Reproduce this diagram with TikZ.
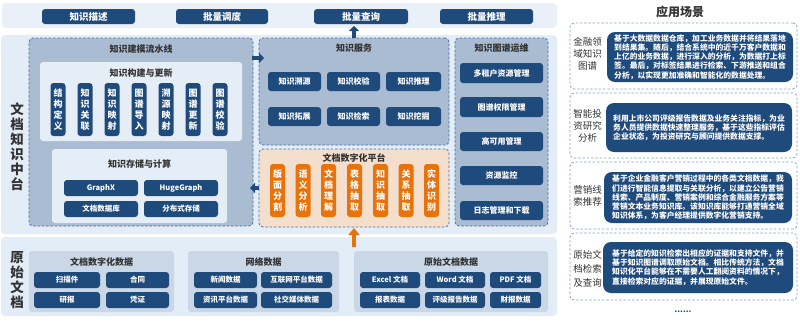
\documentclass[tikz,border=0pt]{standalone}
\usepackage{fontspec}
\setmainfont{Noto Sans CJK SC}
\usetikzlibrary{arrows.meta,calc}
\definecolor{navy}{HTML}{1F4A7C}
\definecolor{orng}{HTML}{E8720C}
\definecolor{bandbg}{HTML}{E3EDF7}
\definecolor{topbg}{HTML}{E9F0F8}
\definecolor{dfill}{HTML}{A9BCD2}
\definecolor{dline}{HTML}{4D6F99}
\definecolor{ifill}{HTML}{E5EEF7}
\definecolor{ofill}{HTML}{F4DFCC}
\definecolor{sfill}{HTML}{C9D7E7}
\definecolor{rline}{HTML}{8AA5C5}
\definecolor{tgray}{HTML}{333333}
\newcommand\bx[7]{\node[#6, minimum width={(#4)-(#2)}, minimum height={(#5)-(#3)}] (#1) at ({((#2)+(#4))/2},{((#3)+(#5))/2}) {#7};}
\tikzset{
  every node/.style={inner sep=0pt, outer sep=0pt},
  band/.style={fill=bandbg, rounded corners=4pt},
  dbox/.style={draw=dline, dashed, line width=0.8pt, fill=dfill, rounded corners=4pt, dash pattern=on 2.5pt off 1.8pt},
  obox/.style={dbox, fill=ofill},
  ibox/.style={fill=ifill, rounded corners=3pt},
  sbox/.style={fill=sfill, rounded corners=3pt},
  rbox/.style={draw=rline, dashed, line width=0.8pt, rounded corners=4pt, dash pattern=on 2.5pt off 1.8pt},
  btn/.style={fill=navy, rounded corners=3pt, text=white, font=\bfseries\fontsize{8}{9}\selectfont},
  tbtn/.style={btn, font=\bfseries\fontsize{9.5}{10}\selectfont},
  sbtn/.style={btn, font=\bfseries\fontsize{7.5}{8}\selectfont},
  vbtn/.style={btn, align=center, font=\bfseries\fontsize{9}{11}\selectfont},
  ovbtn/.style={vbtn, fill=orng},
  ttl/.style={text=tgray, font=\bfseries\fontsize{9}{10}\selectfont},
  side/.style={text=tgray, align=center, font=\bfseries\fontsize{13.5}{15}\selectfont},
  rlab/.style={text=tgray, align=center, font=\fontsize{9.5}{12}\selectfont},
  tbox/.style={fill=navy, rounded corners=8pt, text=white, align=left, font=\bfseries\fontsize{7.8}{9.2}\selectfont},
  barrow/.style={draw=navy, line width=4.5pt, -{Triangle[length=5pt,width=10pt]}},
  oarrow/.style={draw=orng, line width=4.5pt, -{Triangle[length=7pt,width=11pt]}},
}
\begin{document}
\begin{tikzpicture}[x=1pt,y=-1pt]
\useasboundingbox (0,0) rectangle (800,322);
\fill[white] (0,0) rectangle (800,322);
% top bar
\bx{topbar}{2}{3}{557}{28}{band, fill=topbg}{}
\bx{d1}{42}{9}{135}{24}{tbtn}{知识描述}
\bx{d2}{176}{9}{268}{24}{tbtn}{批量调度}
\bx{d3}{314}{9}{408}{24}{tbtn}{批量查询}
\bx{d4}{440}{9}{533}{24}{tbtn}{批量推理}
% main band
\bx{mainband}{1}{35}{557}{234}{band}{}
\node[side] (mlab) at (17,147) {文\\档\\知\\识\\中\\台};
% pipeline
\bx{build}{29}{38}{253}{226}{dbox}{}
\node[ttl] (buildt) at (141,49) {知识建模流水线};
\bx{upd}{40}{62}{242}{141}{ibox}{}
\node[ttl] (updt) at (141,73) {知识构建与更新};
\bx{u1}{50.5}{83}{65.5}{136}{vbtn}{结\\构\\定\\义}
\bx{u2}{77.5}{83}{92.5}{136}{vbtn}{知\\识\\关\\联}
\bx{u3}{104.5}{83}{119.5}{136}{vbtn}{知\\识\\映\\射}
\bx{u4}{131.5}{83}{146.5}{136}{vbtn}{图\\谱\\导\\入}
\bx{u5}{158.5}{83}{173.5}{136}{vbtn}{溯\\源\\映\\射}
\bx{u6}{185.5}{83}{200.5}{136}{vbtn}{图\\谱\\更\\新}
\bx{u7}{212.5}{83}{227.5}{136}{vbtn}{图\\谱\\校\\验}
\bx{store}{52}{149}{227}{223}{ibox}{}
\node[ttl] (storet) at (139.5,164) {知识存储与计算};
\bx{s1}{64}{180}{138}{196}{sbtn}{GraphX}
\bx{s2}{144}{180}{218}{196}{sbtn}{HugeGraph}
\bx{s3}{64}{201}{138}{217}{sbtn}{文档数据库}
\bx{s4}{144}{201}{218}{217}{sbtn}{分布式存储}
% service
\bx{svc}{259}{38}{449}{145}{dbox}{}
\node[ttl] (svct) at (354,48) {知识服务};
\bx{k1}{268}{72}{321}{91}{btn}{知识溯源}
\bx{k2}{327}{72}{380}{91}{btn}{知识校验}
\bx{k3}{386}{72}{441}{91}{btn}{知识推理}
\bx{k4}{268}{107}{321}{126}{btn}{知识拓展}
\bx{k5}{327}{107}{380}{126}{btn}{知识检索}
\bx{k6}{386}{107}{441}{126}{btn}{知识挖掘}
% platform
\bx{plat}{259}{149}{449}{227}{obox}{}
\node[ttl] (platt) at (354,158) {文档数字化平台};
\bx{p1}{270}{164}{285}{217}{ovbtn}{版\\面\\分\\割}
\bx{p2}{295.5}{164}{310.5}{217}{ovbtn}{语\\义\\分\\析}
\bx{p3}{321}{164}{336}{217}{ovbtn}{文\\档\\理\\解}
\bx{p4}{347}{164}{362}{217}{ovbtn}{表\\格\\抽\\取}
\bx{p5}{373}{164}{388}{217}{ovbtn}{知\\识\\抽\\取}
\bx{p6}{398.5}{164}{413.5}{217}{ovbtn}{关\\系\\抽\\取}
\bx{p7}{424}{164}{439}{217}{ovbtn}{实\\体\\识\\别}
% ops
\bx{ops}{455}{38}{548}{226}{dbox}{}
\node[ttl] (opst) at (501.5,48) {知识图谱运维};
\bx{o1}{460}{63}{543}{83}{btn}{多租户资源管理}
\bx{o2}{460}{97}{543}{117}{btn}{图谱权限管理}
\bx{o3}{460}{132}{543}{151}{btn}{高可用管理}
\bx{o4}{460}{166}{543}{185}{btn}{资源监控}
\bx{o5}{460}{201}{543}{220}{btn}{日志管理和下载}
% bottom band
\bx{botband}{1}{237}{557}{316}{band}{}
\node[side] (blab) at (17,280) {原\\始\\文\\档};
\bx{g1}{29}{251}{174}{312}{sbox}{}
\node[ttl] (g1t) at (101.5,262) {文档数字化数据};
\bx{a1}{34}{272}{100}{288}{sbtn}{扫描件}
\bx{a2}{106}{272}{169}{288}{sbtn}{合同}
\bx{a3}{34}{292}{100}{308}{sbtn}{研报}
\bx{a4}{106}{292}{169}{308}{sbtn}{凭证}
\bx{g2}{188}{251}{339}{312}{sbox}{}
\node[ttl] (g2t) at (263.5,262) {网络数据};
\bx{b1}{194}{272}{257}{288}{sbtn}{新闻数据}
\bx{b2}{261}{272}{332}{288}{sbtn}{互联网平台数据}
\bx{b3}{194}{292}{257}{308}{sbtn}{资讯平台数据}
\bx{b4}{261}{292}{332}{308}{sbtn}{社交媒体数据}
\bx{g3}{354}{251}{548}{312}{sbox}{}
\node[ttl] (g3t) at (451,262) {原始文档数据};
\bx{c1}{360}{272}{420}{288}{sbtn}{Excel 文档}
\bx{c2}{425}{272}{485}{288}{sbtn}{Word 文档}
\bx{c3}{490}{272}{541}{288}{sbtn}{PDF 文档}
\bx{c4}{360}{292}{420}{308}{sbtn}{报表数据}
\bx{c5}{425}{292}{485}{308}{sbtn}{评级报告数据}
\bx{c6}{490}{292}{541}{308}{sbtn}{财报数据}
% arrows
\draw[barrow] ($(build.north east)+(-1,20)$) -- ($(svc.north west)+(5,20)$);
\draw[barrow] (svc.north) -- ($(svc.north |- d3.south)+(0,2)$);
\draw[barrow] (plat.west) -- ($(build.east |- plat.west)+(-3,0)$);
\draw[oarrow] ($(plat.south)+(0,20)$) -- ($(plat.south)+(0,1)$);
% right panel
\node[text=tgray, font=\bfseries\fontsize{12}{13}\selectfont] (rt) at (680,12) {应用场景};
\bx{r1}{570}{23}{797}{89}{rbox}{}
\node[rlab] (r1l) at (587.5,54) {金融领\\域知识\\图谱};
\bx{r1t}{607}{32}{793}{82}{tbox}{基于大数据数据仓库，加工业务数据并将结果落地\\到结果集。随后，结合系统中的近千万客户数据和\\上亿的业务数据，进行深入的分析，为数据打上标\\签。最后，对标签结果进行检索、下游推送和组合\\分析，以实现更加准确和智能化的数据处理。}
\bx{r2}{570}{93}{797}{158}{rbox}{}
\node[rlab] (r2l) at (587.5,125.5) {智能投\\资研究\\分析};
\bx{r2t}{606}{103}{792}{152}{tbox}{利用上市公司评级报告数据及业务关注指标，为业\\务人员提供数据快速整理服务，基于这些指标评估\\企业状态，为投资研究与顾问提供数据支撑。}
\bx{r3}{570}{162}{797}{229}{rbox}{}
\node[rlab] (r3l) at (587.5,196) {营销线\\索推荐};
\bx{r3t}{604}{172}{792}{223}{tbox}{基于企业金融客户营销过程中的各类文档数据，我\\们进行智能信息提取与关联分析，以建立公告营销\\线索、产品制度、营销案例和综合金融服务方案等\\营销文本业务知识库。该知识库能够打通营销全域\\知识体系，为客户经理提供数字化营销支持。}
\bx{r4}{570}{233}{797}{300}{rbox}{}
\node[rlab, font=\fontsize{9.5}{14}\selectfont] (r4l) at (587.5,269) {原始文\\档检索\\及查询};
\bx{r4t}{603}{242}{793}{293}{tbox}{基于给定的知识检索出相应的证据和支持文件，并\\基于知识图谱调取原始文档。相比传统方法，文档\\知识化平台能够在不需要人工翻阅资料的情况下，\\直接检索对应的证据，并展现原始文件。}
\node[text=navy, font=\bfseries\fontsize{8}{8}\selectfont] (dots) at (683,312) {......};
\end{tikzpicture}
\end{document}
